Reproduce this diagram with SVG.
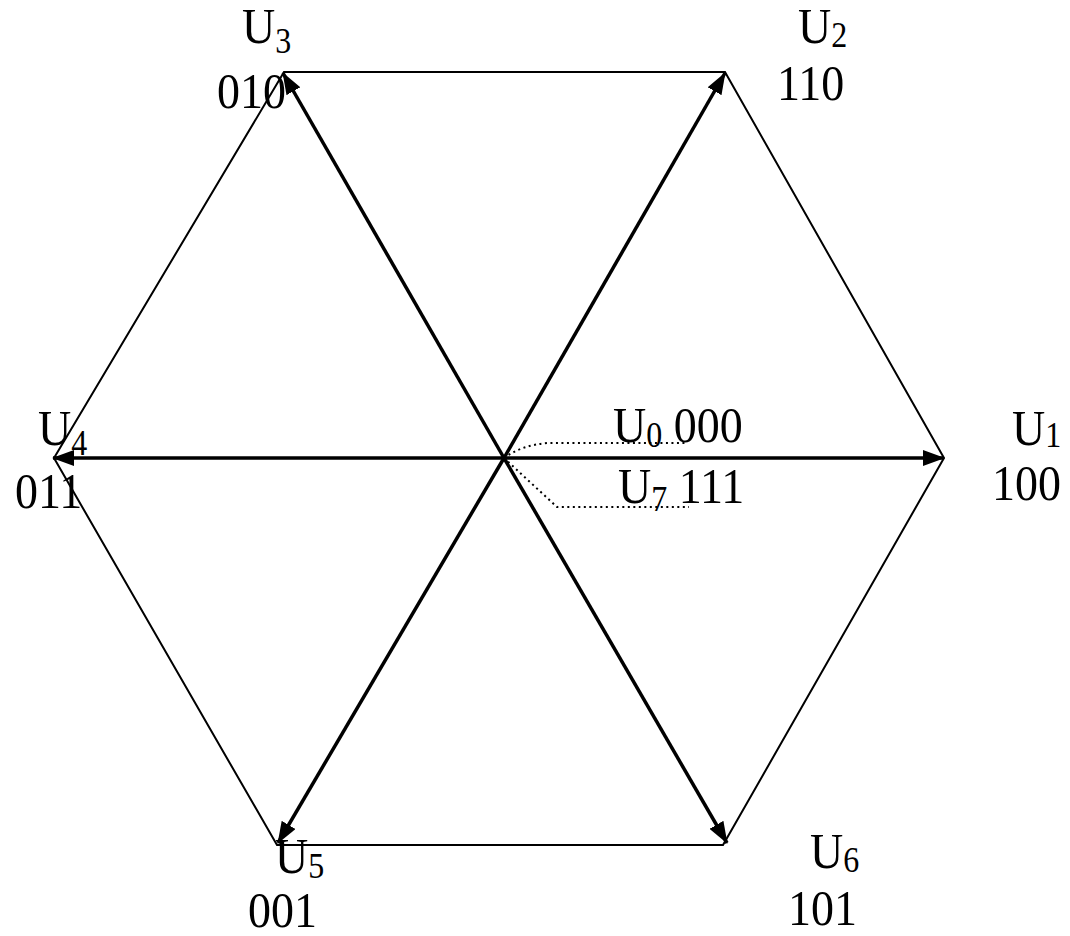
<svg xmlns="http://www.w3.org/2000/svg" width="1070" height="936" viewBox="0 0 1070 936">
<style>
.hex{fill:none;stroke:#000;stroke-width:2}
.vec{stroke:#000;stroke-width:3.5;fill:none;marker-end:url(#ah)}
.dot{fill:none;stroke:#000;stroke-width:2;stroke-dasharray:2 3.5}
.t{font-family:'Liberation Serif','Times New Roman',serif;font-size:46px;fill:#000}
.sub{font-size:32px}
</style>
<defs>
<marker id="ah" viewBox="0 0 22 16" refX="21" refY="8" markerWidth="22" markerHeight="16" markerUnits="userSpaceOnUse" orient="auto">
<path d="M0,0 L22,8 L0,16 z" fill="#000"/>
</marker>
</defs>
<rect width="1070" height="936" fill="#fff"/>
<g id="hexagon">
<polygon class="hex" points="944,458 725,72 284,72 54,458 277,845 723,845"/>
</g>
<g id="connectors">
<line class="vec" x1="504" y1="458" x2="944" y2="458"/>
<line class="vec" x1="504" y1="458" x2="725" y2="73"/>
<line class="vec" x1="504" y1="458" x2="283" y2="73"/>
<line class="vec" x1="504" y1="458" x2="53" y2="458"/>
<line class="vec" x1="504" y1="458" x2="278" y2="843"/>
<line class="vec" x1="504" y1="458" x2="727" y2="843"/>
<path class="dot" d="M504,458 Q522,445 548,443 L686,443"/>
<path class="dot" d="M504,458 L557,507 L689,507"/>
</g>
<g id="U1"><text class="t" transform="translate(1012,445) scale(1,1.1)">U<tspan class="sub" dy="2">1</tspan></text><text class="t" transform="translate(992,500) scale(1,1.1)">100</text></g>
<g id="U2"><text class="t" transform="translate(798,43) scale(1,1.1)">U<tspan class="sub" dy="3.6">2</tspan></text><text class="t" transform="translate(777,100) scale(1,1.1)">110</text></g>
<g id="U3"><text class="t" transform="translate(242,43) scale(1,1.1)">U<tspan class="sub" dy="9">3</tspan></text><text class="t" transform="translate(217,108) scale(1,1.1)">010</text></g>
<g id="U4"><text class="t" transform="translate(38,445) scale(1,1.1)">U<tspan class="sub" dy="9">4</tspan></text><text class="t" transform="translate(15,508) scale(1,1.1)">011</text></g>
<g id="U5"><text class="t" transform="translate(275,873) scale(1,1.1)">U<tspan class="sub" dy="4.5">5</tspan></text><text class="t" transform="translate(248,927) scale(1,1.1)">001</text></g>
<g id="U6"><text class="t" transform="translate(810,868) scale(1,1.1)">U<tspan class="sub" dy="3.6">6</tspan></text><text class="t" transform="translate(788,925) scale(1,1.1)">101</text></g>
<g id="U0"><text class="t" transform="translate(613,442) scale(1,1.1)">U<tspan class="sub" dy="4.5">0</tspan><tspan dy="-4.5"> 000</tspan></text></g>
<g id="U7"><text class="t" transform="translate(618,503) scale(1,1.1)">U<tspan class="sub" dy="7">7</tspan><tspan dy="-7"> 111</tspan></text></g>
</svg>
